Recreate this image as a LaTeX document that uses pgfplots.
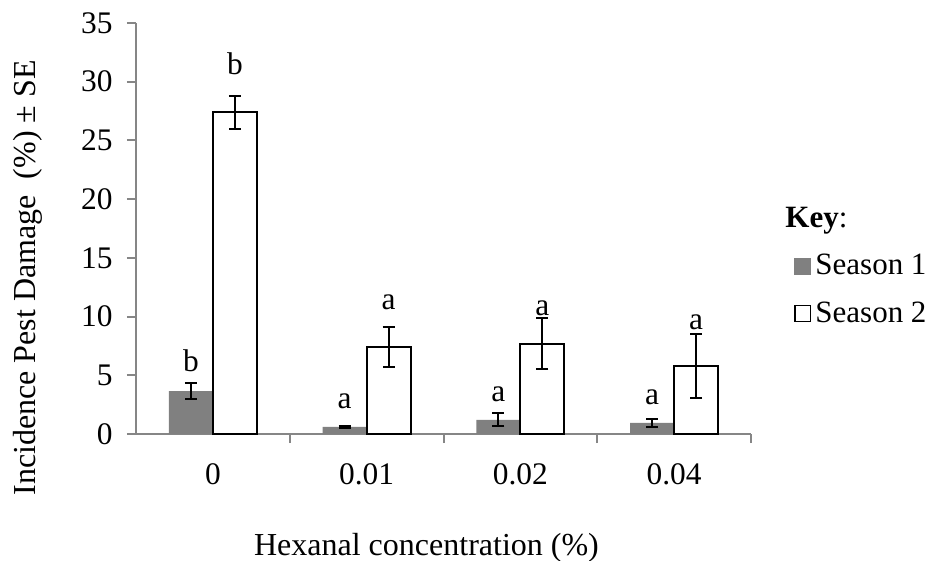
\documentclass[border=0pt]{standalone}
\usepackage{pgfplots}
\pgfplotsset{compat=1.18}
\usepackage{pgfplotstable}
\usepackage{fontspec}
\setmainfont{Liberation Serif}
\definecolor{axgray}{HTML}{868686}
\definecolor{barfill}{HTML}{808080}
\pgfplotstableread{
x y e
-0.1431 3.66 0.65
0.8569 0.60 0.10
1.8569 1.20 0.55
2.8569 0.94 0.35
}\seasonone
\pgfplotstableread{
x y e
0.1431 27.4 1.4
1.1431 7.4 1.7
2.1431 7.7 2.2
3.1431 5.8 2.7
}\seasontwo
\begin{document}
\begin{tikzpicture}[font=\fontsize{15.7}{18.8}\selectfont]
\useasboundingbox (-68pt,-63.5pt) rectangle (399.5pt,217pt);
\begin{axis}[
  at={(0,0)}, anchor=south west,
  scale only axis, width=307.5pt, height=205.5pt,
  xmin=-0.5, xmax=3.5, ymin=0, ymax=35,
  axis x line*=bottom, axis y line*=left,
  axis line style={axgray, line width=1pt},
  tick align=outside,
  major tick length=4.5pt,
  /pgf/number format/assume math mode=true,
  ytick={0,5,...,35},
  ytick style={axgray, line width=1pt},
  yticklabel style={anchor=east, inner sep=0pt, xshift=-7pt},
  xtick={0.5,1.5,2.5,3.5}, xticklabels={},
  xtick style={axgray, line width=1pt},
  extra x ticks={0,1,2,3},
  extra x tick labels={0,0.01,0.02,0.04},
  extra x tick style={major tick length=0pt, xticklabel style={anchor=center, yshift=-20pt}},
  every axis y label/.style={at={([xshift=-54pt, yshift=-24.75pt]axis description cs:0,0.5)}, rotate=90, anchor=center, font=\fontsize{16}{19}\selectfont},
  every axis x label/.style={at={([xshift=-8.5pt, yshift=-57pt]axis description cs:0.5,0)}, anchor=center, font=\fontsize{16}{19}\selectfont},
  ylabel={Incidence Pest Damage \ (\%) ± SE},
  xlabel={Hexanal concentration (\%)},
  legend style={at={(axis description cs:1.07,0.563)}, anchor=north west, draw=none, fill=none,
     inner sep=0pt, row sep=8pt, font=\fontsize{15.5}{18.6}\selectfont,
     /tikz/every even column/.append style={column sep=3.5pt}},
  legend cell align=left,
]
\addlegendimage{empty legend}
\addlegendentry{\hspace*{-15pt}\textbf{Key}:}
\addplot[ybar, bar width=22pt, bar shift=0pt, fill=barfill, draw=none,
  legend image code/.code={\fill[barfill] (0pt,-4.25pt) rectangle (8.5pt,4.25pt);},
  error bars/.cd, y dir=both, y explicit,
  error bar style={black, line width=1pt},
  error mark options={rotate=90, mark size=3pt, black, line width=1pt}]
  table[x=x, y=y, y error=e] {\seasonone};
\addlegendentry{Season 1}
\addplot[ybar, bar width=22pt, bar shift=0pt, fill=white, draw=black, line width=1pt,
  legend image code/.code={\draw[black, fill=white, line width=0.7pt] (0.35pt,-3.9pt) rectangle (8.15pt,3.9pt);},
  error bars/.cd, y dir=both, y explicit,
  error bar style={black, line width=1pt},
  error mark options={rotate=90, mark size=3pt, black, line width=1pt}]
  table[x=x, y=y, y error=e] {\seasontwo};
\addlegendentry{Season 2}
\addplot[only marks, mark=none, forget plot, nodes near coords, point meta=explicit symbolic,
  every node near coord/.append style={anchor=base, inner sep=0pt, black}]
  coordinates {(-0.143,5.28)[b] (0.143,30.6)[b] (0.857,2.2)[a] (1.143,10.56)[a]
               (1.857,2.8)[a] (2.143,10.1)[a] (2.857,2.55)[a] (3.143,8.9)[a]};
\end{axis}
\end{tikzpicture}
\end{document}
